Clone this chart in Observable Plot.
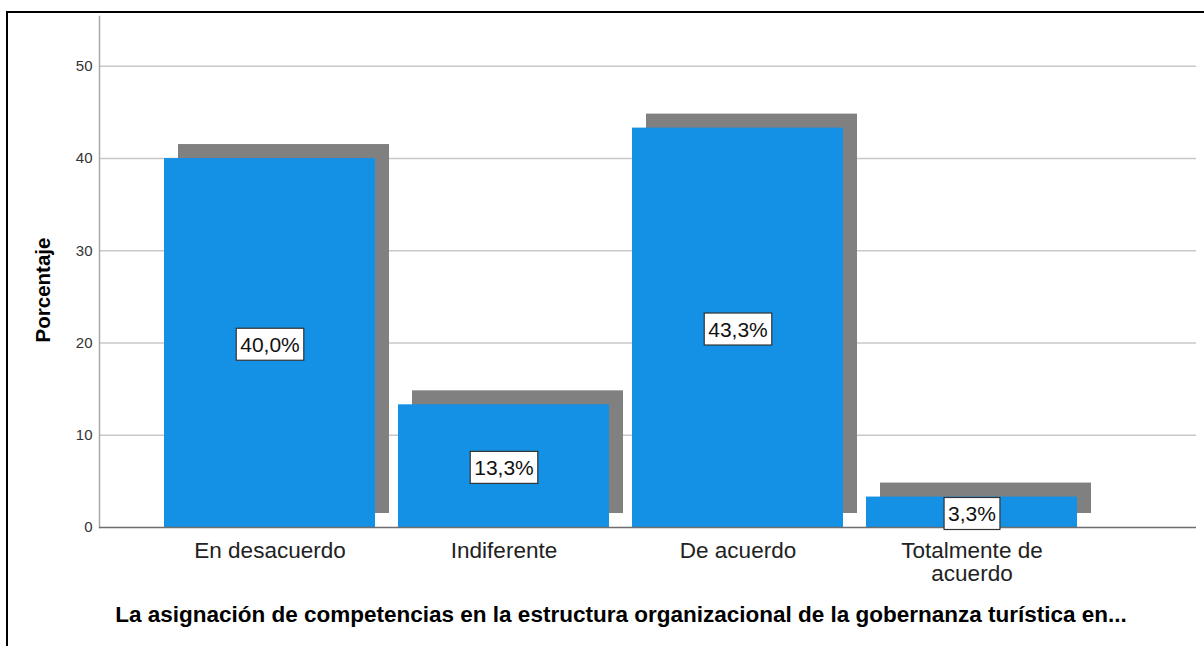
<!DOCTYPE html>
<html><head><meta charset="utf-8">
<script src="https://cdn.jsdelivr.net/npm/d3@7"></script>
<script src="https://cdn.jsdelivr.net/npm/@observablehq/plot@0.6"></script>
<style>
html,body{margin:0;padding:0;background:#fff;overflow:hidden;width:1204px;height:646px;font-family:Arial,"Liberation Sans",sans-serif}
#chart{position:absolute;left:0;top:0}
#frame{position:absolute;left:6px;top:11px;width:1400px;height:800px;border-top:2px solid #000;border-left:2px solid #000;pointer-events:none}
</style></head><body>
<div id="chart"></div><div id="frame"></div>
<script>
const categories = ["En desacuerdo", "Indiferente", "De acuerdo", "Totalmente de acuerdo"];
const tickLabels = ["En desacuerdo", "Indiferente", "De acuerdo", "Totalmente de\nacuerdo"];
const percentages = [40.0, 13.3, 43.3, 3.3];
const valueLabels = ["40,0%", "13,3%", "43,3%", "3,3%"];
const yTicks = [0, 10, 20, 30, 40, 50];
const yTitle = "Porcentaje";
const xTitle = "La asignación de competencias en la estructura organizacional de la gobernanza turística en...";

const data = categories.map((c, i) => ({category: c, value: percentages[i], label: valueLabels[i], mid: percentages[i] / 2}));
const tickMap = new Map(categories.map((c, i) => [c, tickLabels[i]]));

const BLUE = "#1490E5";
const SHADOW = "#808080";

const plot = Plot.plot({
  width: 1204,
  height: 646,
  marginTop: 16,
  marginBottom: 119,
  marginLeft: 99,
  marginRight: 8,
  style: {fontFamily: "Arial, 'Liberation Sans', sans-serif", background: "transparent"},
  x: {domain: categories, range: [151.35, 1088.65], paddingInner: 0.1, paddingOuter: 0.05, label: null},
  y: {domain: [0, 55.4], label: null},
  marks: [
    Plot.gridY(yTicks.filter(d => d > 0), {stroke: "#c8c8c8", strokeOpacity: 1, strokeWidth: 1.5}),
    Plot.frame({anchor: "left", stroke: "#a8a8a8", strokeWidth: 1.5}),
    Plot.barY(data, {x: "category", y: "value", fill: SHADOW, dx: 14, dy: -14}),
    Plot.barY(data, {x: "category", y: "value", fill: BLUE}),
    Plot.ruleY([0], {stroke: "#6e6e6e", strokeWidth: 1.5}),
    Plot.axisY({ticks: yTicks, tickSize: 0, tickPadding: 7, fontSize: 15, color: "#333", label: null}),
    Plot.axisX({tickSize: 0, tickPadding: 14, fontSize: 22.5, lineHeight: 1.03, color: "#222", tickFormat: d => tickMap.get(d), label: null}),
    Plot.text(data, {x: "category", y: "mid", text: "label", fontSize: 21, fill: "#111", dy: 2, className: "vlabel"}),
    Plot.text([yTitle], {frameAnchor: "left", textAnchor: "middle", dx: -56, dy: 18, rotate: -90, fontSize: 20.5, fontWeight: "bold", fill: "#000"}),
    Plot.text([xTitle], {frameAnchor: "bottom", dx: -27, dy: 94, fontSize: 22.5, fontWeight: "bold", fill: "#000"})
  ]
});
document.getElementById("chart").appendChild(plot);

// white boxes behind value labels
const svg = plot.tagName === "svg" ? plot : plot.querySelector("svg");
svg.querySelectorAll("g.vlabel text").forEach(t => {
  const b = t.getBBox();
  const r = document.createElementNS("http://www.w3.org/2000/svg", "rect");
  const px = 4, py = 4.5;
  r.setAttribute("x", b.x - px);
  r.setAttribute("y", b.y - py);
  r.setAttribute("width", b.width + 2 * px);
  r.setAttribute("height", b.height + 2 * py);
  r.setAttribute("fill", "#fff");
  r.setAttribute("stroke", "#333");
  r.setAttribute("stroke-width", "1.2");
  const tr = t.getAttribute("transform");
  if (tr) r.setAttribute("transform", tr);
  t.parentNode.insertBefore(r, t);
});
</script>
</body></html>
